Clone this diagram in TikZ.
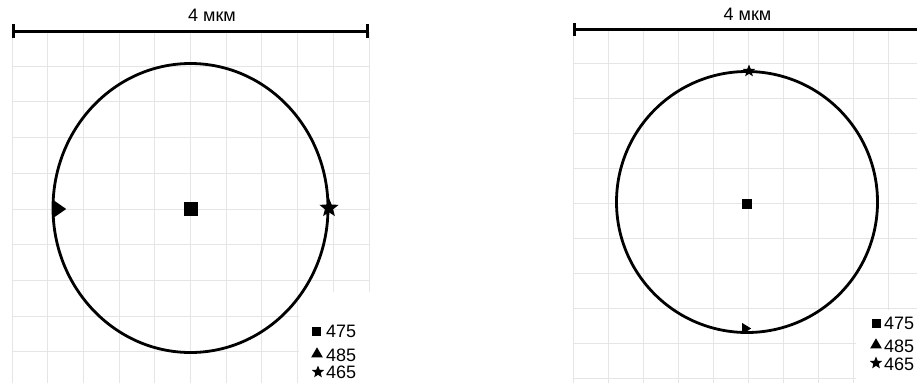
\documentclass[tikz,border=0pt]{standalone}
\usepackage{fontspec}
\setmainfont{Liberation Sans}
\usetikzlibrary{shapes.geometric,arrows.meta}

\begin{document}
\begin{tikzpicture}[x=1pt, y=-1pt,
  gridline/.style={draw=black!10, line width=1pt},
  ring/.style={line width=2.8pt},
  scalebar/.style={line width=3pt},
  sq/.style={rectangle, fill=black, inner sep=0pt},
  tri/.style={isosceles triangle, isosceles triangle stretches, fill=black, inner sep=0pt, anchor=west},
  upt/.style={regular polygon, regular polygon sides=3, fill=black, inner sep=0pt},
  st/.style={star, star points=5, star point ratio=2.3, fill=black, inner sep=0pt},
  lbl/.style={anchor=west, inner sep=0pt, font=\fontsize{18}{18}\selectfont},
  ttl/.style={inner sep=0pt, font=\fontsize{18}{18}\selectfont}]

  \useasboundingbox (0,0) rectangle (917,383);

  % grid, left panel
  \foreach \i in {0,...,10}
    \draw[gridline] (12+35.7*\i,32) -- (12+35.7*\i,383);
  \foreach \j in {1,...,9}
    \draw[gridline] (12,30.5+35.7*\j) -- (369,30.5+35.7*\j);

  % grid, right panel
  \foreach \i in {0,...,9}
    \draw[gridline] (573+35*\i,30) -- (573+35*\i,383);
  \foreach \j in {1,...,10}
    \draw[gridline] (573,28+35*\j) -- (917,28+35*\j);

  % legend backgrounds
  \fill[white] (299,292) rectangle (372,383);
  \fill[white] (856,310) rectangle (917,383);

  % scale bars
  \coordinate (lbarl) at (12,31);
  \coordinate (lbarr) at (369,31);
  \draw[scalebar, {Bar[width=14pt]}-{Bar[width=14pt]}] (lbarl) -- (lbarr);
  \node[ttl] (lscale) at (212,15) {4 мкм};

  \coordinate (rbarl) at (573,29);
  \coordinate (rbarr) at (917,29);
  \draw[scalebar, {Bar[width=13pt]}-] (rbarl) -- (rbarr);
  \node[ttl] (rscale) at (747.5,14) {4 мкм};

  % left cell
  \coordinate (lc) at (190.5,208);
  \draw[ring] (lc) ellipse [x radius=137.5, y radius=144.5];
  \node[sq, minimum size=14] (lsq) at (190.5,209) {};
  \node[tri, minimum width=18, minimum height=13] (ltri) at (53,209) {};
  \node[st, minimum size=20] (lstar) at (329,208) {};

  % right cell
  \coordinate (rc) at (747,202);
  \draw[ring] (rc) circle [radius=130.5];
  \node[sq, minimum size=10] (rsq) at (747,203.5) {};
  \node[st, minimum size=13] (rstar) at (749,71) {};
  \node[tri, minimum width=11, minimum height=9] (rtri) at (742,328.5) {};

  % legend, left
  \node[sq, minimum size=9] (lk475) at (316.5,331.5) {};
  \node[lbl] (lt475) at (326,331.5) {475};
  \node[upt, minimum size=13.5] (lk485) at (317,354) {};
  \node[lbl] (lt485) at (326,355) {485};
  \node[st, minimum size=13] (lk465) at (318,372) {};
  \node[lbl] (lt465) at (326,372.5) {465};

  % legend, right
  \node[sq, minimum size=9] (rk475) at (876,323) {};
  \node[lbl] (rt475) at (884,323) {475};
  \node[upt, minimum size=13.5] (rk485) at (876,345) {};
  \node[lbl] (rt485) at (884,346) {485};
  \node[st, minimum size=13] (rk465) at (876,363) {};
  \node[lbl] (rt465) at (884,364) {465};
\end{tikzpicture}
\end{document}
